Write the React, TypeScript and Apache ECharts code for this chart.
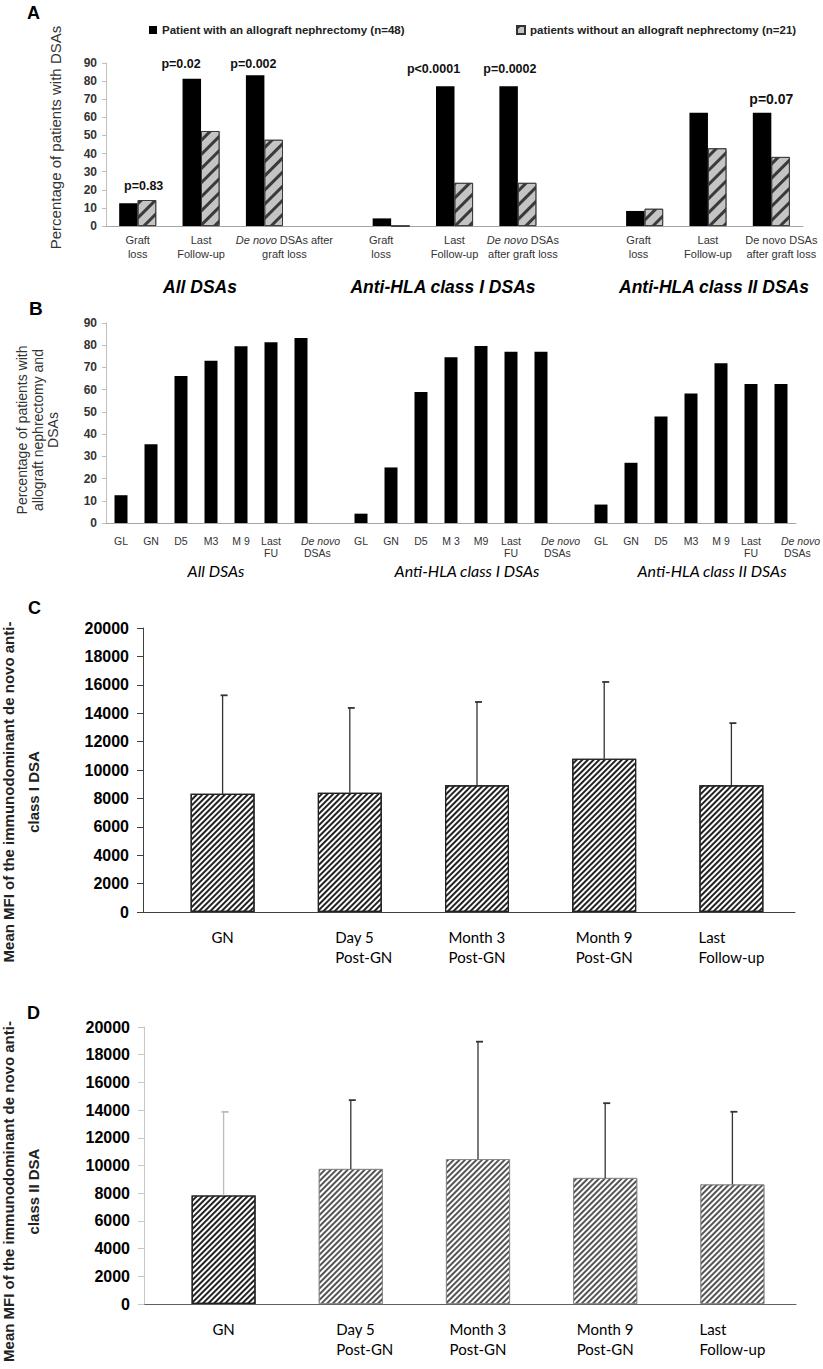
import React, { useEffect, useRef } from "react";
import * as echarts from "echarts";

// ---------- Panel A data ----------
const groupNames = ["All DSAs", "Anti-HLA class I DSAs", "Anti-HLA class II DSAs"];
const aTimepoints = ["Graft loss", "Last Follow-up", "De novo DSAs after graft loss"];
const withNephrectomyAll = [12.5, 81.3, 83.3];
const withNephrectomyClassI = [4.2, 77.1, 77.1];
const withNephrectomyClassII = [8.3, 62.5, 62.5];
const withoutNephrectomyAll = [14.3, 52.4, 47.6];
const withoutNephrectomyClassI = [0, 23.8, 23.8];
const withoutNephrectomyClassII = [9.5, 42.9, 38.1];
const aTickLabelsAll = ["Graft\nloss", "Last\nFollow-up", "{i|De novo} DSAs after\ngraft loss"];
const aTickLabelsClassI = ["Graft\nloss", "Last\nFollow-up", "{i|De novo} DSAs\nafter graft loss"];
const aTickLabelsClassII = ["Graft\nloss", "Last\nFollow-up", "De novo DSAs\nafter graft loss"];
const pValueLabels = ["p=0.83", "p=0.02", "p=0.002", "p<0.0001", "p=0.0002", "p=0.07"];
const pValueCategoryIndex = [0, 1, 2, 5, 6, 10];
const pValueHeights = [22, 89.5, 89.5, 86.7, 86.7, 70];
const seriesWith = "Patient with an allograft nephrectomy (n=48)";
const seriesWithout = "patients without an allograft nephrectomy (n=21)";

// ---------- Panel B data ----------
const bTickAll = ["GL", "GN", "D5", "M3", "M 9", "Last\nFU", "De novo\nDSAs"];
const bTickClassI = ["GL", "GN", "D5", "M 3", "M9", "Last\nFU", "De novo\nDSAs"];
const bTickClassII = ["GL", "GN", "D5", "M3", "M 9", "Last\nFU", "De novo\nDSAs"];
const bAll = [12.5, 35.4, 66.1, 73.0, 79.5, 81.3, 83.3];
const bClassI = [4.2, 25.0, 59.0, 74.6, 79.6, 77.1, 77.1];
const bClassII = [8.3, 27.1, 47.9, 58.3, 71.9, 62.5, 62.5];

// ---------- Panel C / D data ----------
const cdCategories = ["GN", "Day 5\nPost-GN", "Month 3\nPost-GN", "Month 9\nPost-GN", "Last\nFollow-up"];
const cMeanMFI = [8330, 8400, 8930, 10800, 8930];
const cUpperError = [15260, 14370, 14790, 16200, 13300];
const dMeanMFI = [7840, 9750, 10460, 9100, 8630];
const dUpperError = [13870, 14720, 18940, 14500, 13880];
const yTicksPct = { min: 0, max: 90, interval: 10 };
const yTicksMFI = { min: 0, max: 20000, interval: 2000 };

const ARIAL = "'Liberation Sans', Arial, sans-serif";
const CALIBRI = "Lato, Carlito, sans-serif";

function buildA() {
  const cats: string[] = [];
  const labels: string[] = [];
  const withVals: (number | null)[] = [];
  const withoutVals: (number | null)[] = [];
  const withG = [withNephrectomyAll, withNephrectomyClassI, withNephrectomyClassII];
  const withoutG = [withoutNephrectomyAll, withoutNephrectomyClassI, withoutNephrectomyClassII];
  const tickG = [aTickLabelsAll, aTickLabelsClassI, aTickLabelsClassII];
  groupNames.forEach((g, gi) => {
    aTimepoints.forEach((t, ti) => {
      cats.push(g + " | " + t);
      labels.push(tickG[gi][ti]);
      withVals.push(withG[gi][ti]);
      withoutVals.push(withoutG[gi][ti]);
    });
    if (gi < groupNames.length - 1) {
      cats.push("gap" + gi);
      labels.push("");
      withVals.push(null);
      withoutVals.push(null);
    }
  });
  return { cats, labels, withVals, withoutVals };
}

function buildB() {
  const cats: string[] = [];
  const labels: string[] = [];
  const vals: (number | null)[] = [];
  const ticks = [bTickAll, bTickClassI, bTickClassII];
  const data = [bAll, bClassI, bClassII];
  groupNames.forEach((g, gi) => {
    ticks[gi].forEach((t, ti) => {
      cats.push(g + " | " + t);
      labels.push(t);
      vals.push(data[gi][ti]);
    });
    if (gi < groupNames.length - 1) {
      cats.push("gap" + gi);
      labels.push("");
      vals.push(null);
    }
  });
  return { cats, labels, vals };
}

const stripe = (color: string, on: number, off: number) => ({
  symbol: "rect",
  symbolSize: 1,
  dashArrayX: [[1, 0]],
  dashArrayY: [on, off],
  rotation: -Math.PI / 4,
  color,
});

function errorBars(xi: number, yi: number, means: number[], tops: number[], colors: string[]) {
  return {
    type: "custom",
    xAxisIndex: xi,
    yAxisIndex: yi,
    z: 5,
    data: means.map((m, i) => [i, m, tops[i]]),
    encode: { x: 0, y: [1, 2] },
    renderItem: (params: any, api: any) => {
      const idx = api.value(0);
      const base = api.coord([idx, api.value(1)]);
      const top = api.coord([idx, api.value(2)]);
      const stroke = colors[params.dataIndex];
      return {
        type: "group",
        children: [
          { type: "line", shape: { x1: base[0], y1: base[1], x2: base[0], y2: top[1] }, style: { stroke, lineWidth: 1.3 } },
          { type: "line", shape: { x1: base[0] - 2, y1: top[1], x2: base[0] + 5, y2: top[1] }, style: { stroke, lineWidth: 1.8 } },
        ],
      };
    },
  };
}

export default function App() {
  const ref = useRef<HTMLDivElement>(null);
  useEffect(() => {
    document.body.style.margin = "0";
    if (!ref.current) return;
    const chart = echarts.init(ref.current, null, { renderer: "svg" });
    const A = buildA();
    const B = buildB();
    const aShift = [0, 0, 40, 0, -20, 0, 10, 0, -12, 0, 20];

    const pctY = (gridIndex: number, name: string, gap: number, fontSize: number, pad: number[]) => ({
      type: "value",
      gridIndex,
      ...yTicksPct,
      splitLine: { show: false },
      axisLine: { show: true, lineStyle: { color: "#bfbfbf" } },
      axisTick: { show: true, length: 4, lineStyle: { color: "#bfbfbf" } },
      axisLabel: { fontSize: 12, fontWeight: "bold", color: "#333", margin: 9, fontFamily: ARIAL },
      name,
      nameLocation: "middle",
      nameRotate: 90,
      nameGap: gap,
      nameTextStyle: { fontSize, color: "#333", lineHeight: 15.5, fontFamily: ARIAL, padding: pad },
    });

    const mfiY = (gridIndex: number, name: string, lineColor: string, gap: number, pad: number[]) => ({
      type: "value",
      gridIndex,
      ...yTicksMFI,
      offset: 16,
      splitLine: { show: false },
      axisLine: { show: true, lineStyle: { color: lineColor } },
      axisTick: { show: true, length: 6, lineStyle: { color: lineColor } },
      axisLabel: {
        fontSize: 16,
        fontWeight: "bold",
        color: "#000",
        margin: 14,
        fontFamily: ARIAL,
        formatter: (v: number) => String(v),
      },
      name,
      nameLocation: "middle",
      nameRotate: 90,
      nameGap: gap,
      nameTextStyle: { fontSize: 15, fontWeight: "bold", color: "#222", lineHeight: 25, fontFamily: ARIAL, padding: pad },
    });

    const cdX = (gridIndex: number, axisColor: string) => ({
      type: "category",
      gridIndex,
      data: cdCategories.map((c, i) => (i === 1 ? { value: c, textStyle: { padding: [0, 0, 0, 28] } } : c)),
      axisLine: { lineStyle: { color: axisColor } },
      axisTick: { show: false },
      axisLabel: {
        interval: 0,
        margin: 15,
        fontSize: 15,
        lineHeight: 20,
        color: "#000",
        fontFamily: CALIBRI,
        formatter: (v: string) => v.split("\n").map((l) => "{l|" + l + "}").join("\n"),
        rich: { l: { align: "left", fontSize: 15, lineHeight: 20, fontFamily: CALIBRI, color: "#000" } },
      },
    });

    const legendText = { fontSize: 11.5, fontWeight: "bold", color: "#222", fontFamily: ARIAL };

    const option: any = {
      animation: false,
      textStyle: { fontFamily: ARIAL },
      legend: [
        { data: [seriesWith], left: 144, top: 19, itemWidth: 8, itemHeight: 8, icon: "rect", textStyle: legendText },
        { data: [seriesWithout], left: 511, top: 19, itemWidth: 8, itemHeight: 8, icon: "rect", textStyle: legendText },
      ],
      grid: [
        { left: 106, top: 63, width: 697, height: 163, outerBoundsMode: "none", containLabel: false },
        { left: 106, top: 323, width: 690, height: 200, outerBoundsMode: "none", containLabel: false },
        { left: 159, top: 628, width: 636, height: 284, outerBoundsMode: "none", containLabel: false },
        { left: 160, top: 1027, width: 636, height: 277, outerBoundsMode: "none", containLabel: false },
      ],
      xAxis: [
        {
          type: "category",
          gridIndex: 0,
          data: A.cats.map((c, i) => ({ value: c, textStyle: { padding: aShift[i] >= 0 ? [0, 0, 0, aShift[i]] : [0, -aShift[i], 0, 0] } })),
          axisLine: { lineStyle: { color: "#a6a6a6" } },
          axisTick: { show: false },
          axisLabel: {
            interval: 0,
            margin: 7,
            fontSize: 11,
            lineHeight: 14,
            color: "#333",
            fontFamily: ARIAL,
            formatter: (_v: string, i: number) => A.labels[i],
            rich: { i: { fontStyle: "italic", fontSize: 11, lineHeight: 14, color: "#333", fontFamily: ARIAL } },
          },
        },
        {
          type: "category",
          gridIndex: 1,
          data: B.cats.map((c, i) => (B.labels[i].startsWith("De novo") ? { value: c, textStyle: { align: "left" } } : c)),
          axisLine: { lineStyle: { color: "#a6a6a6" } },
          axisTick: { show: false },
          axisLabel: {
            interval: 0,
            margin: 12,
            fontSize: 10.5,
            lineHeight: 12,
            color: "#333",
            fontFamily: ARIAL,
            formatter: (_v: string, i: number) => {
              const t = B.labels[i];
              if (t.startsWith("De novo")) return "{i|De novo}\n{d|DSAs}";
              return t;
            },
            rich: {
              i: { fontStyle: "italic", fontSize: 10.5, lineHeight: 12, color: "#333", align: "left", fontFamily: ARIAL },
              d: { fontSize: 10.5, lineHeight: 12, color: "#333", align: "left", padding: [0, 0, 0, 3], fontFamily: ARIAL },
            },
          },
        },
        cdX(2, "#404040"),
        cdX(3, "#606060"),
      ],
      yAxis: [
        pctY(0, "Percentage of patients with DSAs", 43, 15, [0, 0, 0, 14]),
        pctY(1, "Percentage of patients with\nallograft nephrectomy and\nDSAs", 45, 14, [0, 14, 0, 0]),
        mfiY(2, "Mean MFI of the immunodominant de novo anti-\nclass I DSA", "#404040", 97, [0, 44, 0, 0]),
        mfiY(3, "Mean MFI of the immunodominant de novo anti-\nclass II DSA", "#c8c8c8", 98, [0, 52, 0, 0]),
      ],
      series: [
        {
          name: seriesWith,
          type: "bar",
          xAxisIndex: 0,
          yAxisIndex: 0,
          data: A.withVals,
          barWidth: 18.5,
          barGap: "0%",
          itemStyle: { color: "#000" },
        },
        {
          name: seriesWithout,
          type: "bar",
          xAxisIndex: 0,
          yAxisIndex: 0,
          data: A.withoutVals,
          barWidth: 18.5,
          barGap: "0%",
          itemStyle: { color: "#c4c4c4", borderColor: "#333", borderWidth: 0.8, decal: stripe("#3a3a3a", 3, 7) },
        },
        {
          name: "p-values",
          type: "scatter",
          xAxisIndex: 0,
          yAxisIndex: 0,
          symbolSize: 0,
          z: 6,
          itemStyle: { opacity: 1 },
          data: pValueLabels.map((t, i) => ({
            name: t,
            value: [pValueCategoryIndex[i], pValueHeights[i]],
            label: { offset: [[6, -20, -11, -21, -8, 0][i], 0], fontSize: i === 5 ? 14 : 12.5 },
          })),
          label: {
            show: true,
            position: "inside",
            formatter: "{b}",
            fontWeight: "bold",
            color: "#111",
            opacity: 1,
            textBorderWidth: 0,
            fontFamily: ARIAL,
          },
        },
        {
          name: "B",
          type: "bar",
          xAxisIndex: 1,
          yAxisIndex: 1,
          data: B.vals,
          barWidth: 13,
          itemStyle: { color: "#000" },
        },
        {
          name: "C",
          type: "bar",
          xAxisIndex: 2,
          yAxisIndex: 2,
          data: cMeanMFI,
          barWidth: 64,
          itemStyle: { color: "#fff", borderColor: "#222", borderWidth: 1.2, decal: stripe("#222", 2, 2) },
        },
        errorBars(2, 2, cMeanMFI, cUpperError, ["#333", "#333", "#333", "#333", "#333"]),
        {
          name: "D",
          type: "bar",
          xAxisIndex: 3,
          yAxisIndex: 3,
          data: dMeanMFI.map((v, i) =>
            i === 0
              ? { value: v, itemStyle: { color: "#fff", borderColor: "#222", borderWidth: 1.2, decal: stripe("#222", 2, 2) } }
              : { value: v, itemStyle: { color: "#fff", borderColor: "#888", borderWidth: 0.8, decal: stripe("#555", 2, 2) } }
          ),
          barWidth: 64,
        },
        errorBars(3, 3, dMeanMFI, dUpperError, ["#bbb", "#333", "#333", "#333", "#333"]),
      ],
      graphic: [
        { type: "text", x: 27, y: 4, style: { text: "A", fontSize: 18, fontWeight: "bold", fill: "#000", fontFamily: ARIAL } },
        { type: "text", x: 29, y: 299, style: { text: "B", fontSize: 19, fontWeight: "bold", fill: "#000", fontFamily: ARIAL } },
        { type: "text", x: 28, y: 599, style: { text: "C", fontSize: 18, fontWeight: "bold", fill: "#000", fontFamily: ARIAL } },
        { type: "text", x: 27, y: 1004, style: { text: "D", fontSize: 18, fontWeight: "bold", fill: "#000", fontFamily: ARIAL } },
        ...groupNames.map((g, i) => ({
          type: "text",
          x: [200, 443, 714][i],
          y: 287,
          style: { text: g, fontSize: 17.5, fontWeight: "bold", fontStyle: "italic", fill: "#000", fontFamily: ARIAL, align: "center", verticalAlign: "middle" },
        })),
        ...groupNames.map((g, i) => ({
          type: "text",
          x: [216, 467, 712][i],
          y: 570,
          style: { text: g, fontSize: 16, fontStyle: "italic", fill: "#000", fontFamily: CALIBRI, align: "center", verticalAlign: "middle" },
        })),
        { type: "line", shape: { x1: 143, y1: 912.5, x2: 160, y2: 912.5 }, style: { stroke: "#404040", lineWidth: 1 } },
        { type: "line", shape: { x1: 144, y1: 1304.5, x2: 161, y2: 1304.5 }, style: { stroke: "#606060", lineWidth: 1 } },
      ],
    };
    chart.setOption(option);
    return () => chart.dispose();
  }, []);
  return <div ref={ref} style={{ width: 823, height: 1369, background: "#fff" }} />;
}
